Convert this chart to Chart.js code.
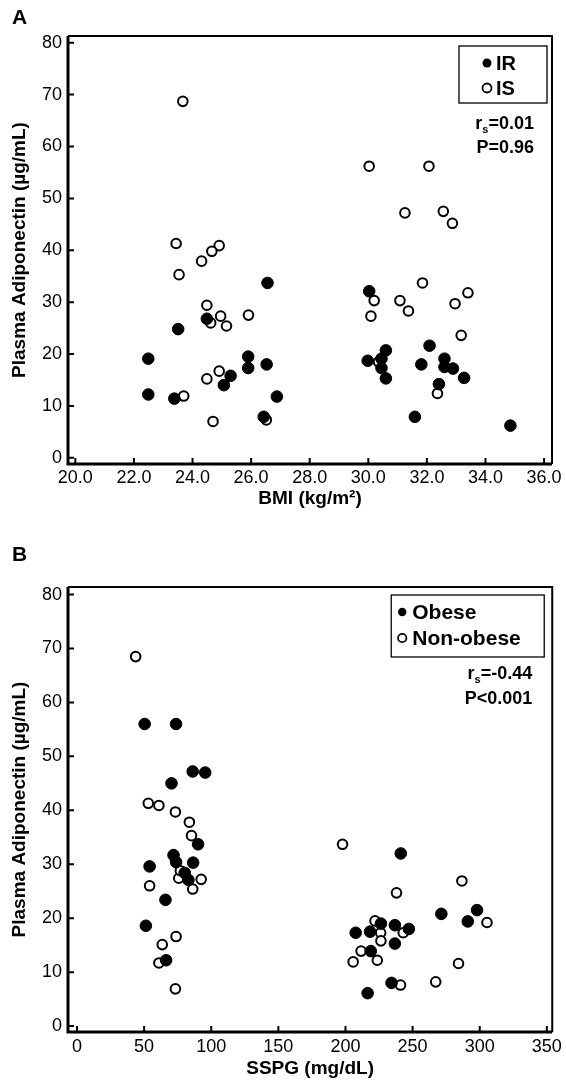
<!DOCTYPE html>
<html>
<head>
<meta charset="utf-8">
<script src="https://cdn.jsdelivr.net/npm/chart.js@4.4.0/dist/chart.umd.min.js"></script>
<style>
    body { margin: 0; background: #fff; }
    .panel { position: absolute; left: 0; width: 566px; }
    #panelA { top: 0; height: 514px; }
    #panelB { top: 540px; height: 543px; }
</style>
</head>
<body>
<div class="panel" id="panelA"><canvas id="chartA"></canvas></div>
<div class="panel" id="panelB"><canvas id="chartB"></canvas></div>
<script>
// Panel A: adiponectin vs BMI, insulin resistant (IR) / insulin sensitive (IS)
const irBmi = [22.49, 22.49, 23.38, 23.51, 24.49, 25.07, 25.3, 25.9, 25.9, 26.53, 26.56, 26.43, 26.88,
    30.03, 29.98, 30.45, 30.45, 30.6, 30.6, 31.59, 31.81, 32.09, 32.41, 32.6, 32.6, 32.89, 33.27, 34.85];
const irAdipo = [19.1, 12.2, 11.4, 24.8, 26.8, 14.0, 15.8, 19.5, 17.3, 18.0, 33.7, 7.9, 11.8,
    32.1, 18.7, 19.1, 17.3, 20.7, 15.3, 7.9, 18.0, 21.6, 14.2, 19.1, 17.5, 17.2, 15.4, 6.2];
const isBmi = [23.67, 23.44, 24.91, 24.66, 24.31, 23.54, 24.49, 24.96, 24.62, 25.16, 25.91, 24.91, 24.49,
    23.7, 24.7, 26.52, 30.03, 32.07, 31.25, 32.56, 32.87, 30.2, 30.09, 31.08, 31.37, 31.85, 32.96, 33.4,
    33.17, 32.36, 30.35];
const isAdipo = [68.7, 41.3, 40.9, 39.8, 37.9, 35.3, 29.4, 27.3, 26.0, 25.4, 27.5, 16.7, 15.2,
    11.9, 7.0, 7.3, 56.2, 56.2, 47.2, 47.5, 45.2, 30.3, 27.3, 30.3, 28.3, 33.7, 29.7, 31.8,
    23.6, 12.4, 18.5];

// Panel B: adiponectin vs SSPG, obese / non-obese
const obeseSspg = [50.4, 73.8, 86.2, 95.5, 70.4, 90.2, 71.9, 73.8, 86.5, 54.1, 80.2, 83.0, 65.9, 51.3, 66.4,
    241.2, 298.0, 271.4, 291.1, 226.4, 236.8, 247.2, 207.6, 218.3, 236.8, 218.8, 234.3, 216.5];
const obeseAdipo = [56.0, 56.0, 47.2, 47.0, 45.0, 33.7, 31.7, 30.4, 30.3, 29.6, 28.4, 27.1, 23.4, 18.6, 12.2,
    32.0, 21.5, 20.8, 19.4, 19.0, 18.7, 18.0, 17.3, 17.5, 15.3, 13.9, 8.0, 6.1];
const nonObeseSspg = [43.7, 53.1, 61.0, 73.3, 83.7, 85.3, 75.8, 92.5, 86.2, 54.1, 73.8, 63.5, 61.0, 73.3, 77.0,
    197.8, 238.0, 286.7, 305.4, 222.0, 243.0, 226.2, 226.4, 211.6, 223.7, 205.7, 284.2, 241.0, 267.2];
const nonObeseAdipo = [68.5, 41.3, 40.9, 39.7, 37.8, 35.3, 27.4, 27.2, 25.4, 26.0, 16.6, 15.1, 11.7, 6.9, 28.8,
    33.7, 24.7, 26.9, 19.2, 19.5, 17.3, 17.3, 15.8, 13.9, 12.2, 11.9, 11.6, 7.6, 8.2];

// Axis ticks and labels
const adipoTicks = [0, 10, 20, 30, 40, 50, 60, 70, 80];
const bmiTicks = [20, 22, 24, 26, 28, 30, 32, 34, 36];
const sspgTicks = [0, 50, 100, 150, 200, 250, 300, 350];
const yTitle = 'Plasma Adiponectin (µg/mL)';

const FONT = "'Liberation Sans', Arial, Helvetica, sans-serif";
Chart.defaults.font.family = FONT;
Chart.defaults.color = '#000';

function toPoints(xs, ys) {
    return xs.map((x, i) => ({ x: x, y: ys[i] }));
}

// draws "r" + subscript "s" + rest, right aligned
function drawStat(ctx, text, xRight, y, withSub) {
    const big = 'bold 18px ' + FONT, small = 'bold 11px ' + FONT;
    ctx.textBaseline = 'middle';
    ctx.textAlign = 'left';
    ctx.font = big;
    if (!withSub) {
        ctx.fillText(text, xRight - ctx.measureText(text).width, y);
        return;
    }
    const wr = ctx.measureText('r').width;
    const wRest = ctx.measureText(text).width;
    ctx.font = small;
    const ws = ctx.measureText('s').width;
    const x = xRight - wr - ws - wRest;
    ctx.font = big;
    ctx.fillText('r', x, y);
    ctx.font = small;
    ctx.fillText('s', x + wr, y + 6);
    ctx.font = big;
    ctx.fillText(text, x + wr + ws, y);
}

const panelDecor = {
    id: 'panelDecor',
    afterDraw(chart, args, opts) {
        const ctx = chart.ctx;
        const area = chart.chartArea;
        const xs = chart.scales.x, ys = chart.scales.y;
        ctx.save();
        ctx.strokeStyle = '#000';
        ctx.fillStyle = '#000';

        // frame: heavy left/bottom axes, lighter top/right
        ctx.lineWidth = 2;
        ctx.beginPath();
        ctx.moveTo(area.left, area.top);
        ctx.lineTo(area.right, area.top);
        ctx.lineTo(area.right, area.bottom);
        ctx.stroke();
        ctx.lineWidth = 3;
        ctx.beginPath();
        ctx.moveTo(area.left, area.top);
        ctx.lineTo(area.left, area.bottom);
        ctx.lineTo(area.right, area.bottom);
        ctx.stroke();

        // inward tick marks
        ctx.lineWidth = 2;
        ctx.beginPath();
        xs.ticks.forEach(t => {
            const px = xs.getPixelForValue(t.value);
            ctx.moveTo(px, area.bottom);
            ctx.lineTo(px, area.bottom - 6);
        });
        ys.ticks.forEach(t => {
            const py = ys.getPixelForValue(t.value);
            ctx.moveTo(area.left, py);
            ctx.lineTo(area.left + 6, py);
        });
        ctx.stroke();

        // panel letter
        ctx.font = 'bold 21px ' + FONT;
        ctx.textAlign = 'left';
        ctx.textBaseline = 'middle';
        ctx.fillText(opts.letter, 12, opts.letterY);

        // legend box
        const lg = opts.legend;
        const bx = area.right - lg.right - lg.width;
        const by = area.top + lg.top;
        ctx.lineWidth = 1.3;
        ctx.strokeRect(bx, by, lg.width, lg.height);
        chart.data.datasets.forEach((ds, i) => {
            const cy = by + lg.firstRow + i * lg.rowH;
            const cx = bx + lg.markerX;
            ctx.beginPath();
            ctx.arc(cx, cy, lg.markerR, 0, Math.PI * 2);
            if (ds.backgroundColor === '#000') {
                ctx.fill();
            } else {
                ctx.lineWidth = 1.8;
                ctx.fillStyle = '#fff';
                ctx.fill();
                ctx.stroke();
                ctx.fillStyle = '#000';
            }
            ctx.font = 'bold ' + lg.fontSize + 'px ' + FONT;
            ctx.textAlign = 'left';
            ctx.textBaseline = 'middle';
            ctx.fillText(ds.label, bx + lg.textX, cy + 1);
        });

        // statistics
        const st = opts.stats;
        drawStat(ctx, st.r, area.right - st.right, area.top + st.y1, true);
        drawStat(ctx, st.p, area.right - st.right, area.top + st.y2, false);
        ctx.restore();
    }
};

function makeChart(canvasId, cfg) {
    const ctx = document.getElementById(canvasId).getContext('2d');
    return new Chart(ctx, {
        type: 'scatter',
        data: {
            datasets: [
                {
                    label: cfg.filledLabel,
                    data: cfg.filled,
                    backgroundColor: '#000',
                    borderColor: '#000',
                    borderWidth: 1,
                    pointRadius: 5.8
                },
                {
                    label: cfg.openLabel,
                    data: cfg.open,
                    backgroundColor: '#fff',
                    borderColor: '#000',
                    borderWidth: 2,
                    pointRadius: 4.8
                }
            ]
        },
        plugins: [panelDecor],
        options: {
            responsive: true,
            maintainAspectRatio: false,
            animation: false,
            layout: { padding: { top: cfg.padTop, right: cfg.padRight, left: 0, bottom: 0 } },
            plugins: {
                legend: { display: false },
                tooltip: { enabled: false },
                panelDecor: cfg.decor
            },
            scales: {
                x: {
                    type: 'linear',
                    min: cfg.xMin,
                    max: cfg.xMax,
                    afterBuildTicks: scale => { scale.ticks = cfg.xTicks.map(v => ({ value: v })); },
                    afterFit: scale => { scale.height = cfg.xAxisH; },
                    grid: { display: false, drawTicks: false },
                    border: { display: false },
                    ticks: {
                        padding: cfg.xTickPad,
                        font: { size: 18 },
                        autoSkip: false,
                        maxRotation: 0,
                        callback: v => cfg.xFmt(v)
                    },
                    title: {
                        display: true,
                        text: cfg.xTitle,
                        font: { size: 19, weight: 'bold' },
                        padding: { top: 0, bottom: cfg.xTitlePad }
                    }
                },
                y: {
                    type: 'linear',
                    min: cfg.yMin,
                    max: cfg.yMax,
                    afterBuildTicks: scale => { scale.ticks = adipoTicks.map(v => ({ value: v })); },
                    afterFit: scale => { scale.width = 68; },
                    grid: { display: false, drawTicks: false },
                    border: { display: false },
                    ticks: {
                        padding: 6,
                        font: { size: 18 },
                        autoSkip: false
                    },
                    title: {
                        display: true,
                        text: yTitle,
                        font: { size: 19, weight: 'bold' },
                        padding: { top: 8, bottom: 0 }
                    }
                }
            }
        }
    });
}

makeChart('chartA', {
    filledLabel: 'IR',
    openLabel: 'IS',
    filled: toPoints(irBmi, irAdipo),
    open: toPoints(isBmi, isAdipo),
    xMin: 19.75, xMax: 36.27,
    yMin: -1.2, yMax: 81.3,
    xTicks: bmiTicks,
    xFmt: v => v.toFixed(1),
    xTitle: 'BMI (kg/m²)',
    xAxisH: 50,
    xTickPad: 3,
    xTitlePad: 4,
    padTop: 36,
    padRight: 14,
    decor: {
        letter: 'A',
        letterY: 18,
        legend: { width: 88, height: 57, right: 5, top: 10, firstRow: 17, rowH: 25, markerX: 28, markerR: 4.5, textX: 37, fontSize: 20 },
        stats: { r: '=0.01', p: 'P=0.96', right: 18, y1: 88, y2: 112 }
    }
});

makeChart('chartB', {
    filledLabel: 'Obese',
    openLabel: 'Non-obese',
    filled: toPoints(obeseSspg, obeseAdipo),
    open: toPoints(nonObeseSspg, nonObeseAdipo),
    xMin: -6.7, xMax: 354,
    yMin: -1.1, yMax: 81.4,
    xTicks: sspgTicks,
    xFmt: v => String(v),
    xTitle: 'SSPG (mg/dL)',
    xAxisH: 51,
    xTickPad: 4,
    xTitlePad: 3,
    padTop: 47,
    padRight: 11,
    decor: {
        letter: 'B',
        letterY: 15,
        legend: { width: 153, height: 62, right: 8, top: 8, firstRow: 17, rowH: 26, markerX: 11, markerR: 4.2, textX: 21, fontSize: 21 },
        stats: { r: '=-0.44', p: 'P<0.001', right: 20, y1: 87, y2: 112 }
    }
});
</script>
</body>
</html>
